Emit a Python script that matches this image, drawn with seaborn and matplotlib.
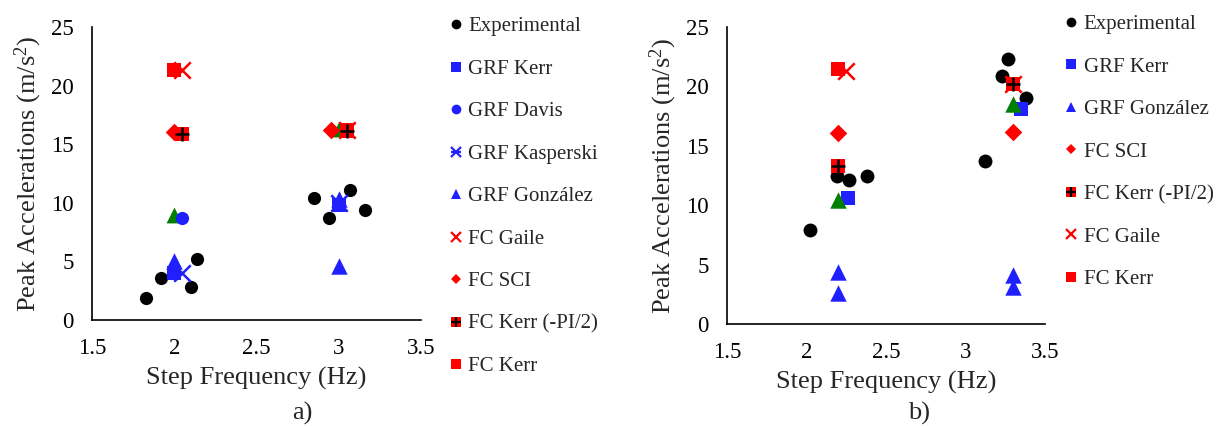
import matplotlib
matplotlib.use('Agg')
import matplotlib.pyplot as plt
import seaborn as sns
from matplotlib.lines import Line2D
from matplotlib.legend_handler import HandlerTuple

sns.set_style("white")
plt.rcParams['font.family'] = ['Liberation Serif', 'DejaVu Serif']
plt.rcParams['mathtext.default'] = 'regular'

BLUE = '#2020FF'
RED = '#FF0000'
GREEN = '#008000'

# ---- panel a) data ----
a_exp_x = [1.83, 1.92, 2.10, 2.14, 2.85, 2.94, 3.07, 3.16]
a_exp_y = [1.9, 3.6, 2.8, 5.2, 10.4, 8.7, 11.1, 9.4]
a_grf_kerr_x = [2.0, 3.0]
a_grf_kerr_y = [4.0, 9.8]
a_green_x = [2.0, 3.0]
a_green_y = [9.0, 16.3]
a_grf_davis_x = [2.05]
a_grf_davis_y = [8.7]
a_grf_kasp_x = [2.05, 3.0]
a_grf_kasp_y = [4.0, 10.0]
a_grf_gonz_x = [2.0, 3.0, 3.0]
a_grf_gonz_y = [5.0, 10.3, 4.6]
a_fc_gaile_x = [2.05, 3.05]
a_fc_gaile_y = [21.3, 16.2]
a_fc_sci_x = [2.0, 2.95]
a_fc_sci_y = [16.0, 16.2]
a_fc_kerr_pi_x = [2.05, 3.05]
a_fc_kerr_pi_y = [15.9, 16.1]
a_fc_kerr_x = [2.0, 3.05]
a_fc_kerr_y = [21.3, 16.2]

# ---- panel b) data ----
b_exp_x = [2.02, 2.19, 2.27, 2.38, 3.12, 3.23, 3.27, 3.38]
b_exp_y = [7.9, 12.5, 12.1, 12.5, 13.7, 20.9, 22.3, 19.0]
b_grf_kerr_x = [2.26, 3.35]
b_grf_kerr_y = [10.6, 18.1]
b_green_x = [2.2, 3.3]
b_green_y = [10.4, 18.5]
b_grf_gonz_x = [2.2, 2.2, 3.3, 3.3]
b_grf_gonz_y = [4.4, 2.6, 4.1, 3.1]
b_fc_sci_x = [2.2, 3.3]
b_fc_sci_y = [16.1, 16.2]
b_fc_kerr_pi_x = [2.2, 3.3]
b_fc_kerr_pi_y = [13.3, 20.2]
b_fc_gaile_x = [2.25, 3.3]
b_fc_gaile_y = [21.3, 20.2]
b_fc_kerr_x = [2.2, 3.3]
b_fc_kerr_y = [21.5, 20.2]

x_ticks = [1.5, 2, 2.5, 3, 3.5]
x_tick_labels = ['1.5', '2', '2.5', '3', '3.5']
y_ticks = [0, 5, 10, 15, 20, 25]

fig = plt.figure(figsize=(12.22, 4.26), dpi=100)
ax_a = fig.add_axes([0.0753, 0.2488, 0.2692, 0.6878])
ax_b = fig.add_axes([0.5949, 0.2394, 0.2602, 0.6972])


def pts(ax, x, y, marker, color, s, lw=0):
    sns.scatterplot(x=x, y=y, ax=ax, marker=marker, color=color, s=s,
                    linewidth=lw, edgecolor=color, legend=False, zorder=3)


def kerr_pi(ax, x, y):
    pts(ax, x, y, 's', RED, 110)
    sns.scatterplot(x=x, y=y, ax=ax, marker='+', color='black', s=110,
                    linewidth=1.8, legend=False, zorder=4)


# panel a
pts(ax_a, a_exp_x, a_exp_y, 'o', 'black', 90)
pts(ax_a, a_grf_kerr_x, a_grf_kerr_y, 's', BLUE, 110)
pts(ax_a, a_green_x, a_green_y, '^', GREEN, 130)
pts(ax_a, a_grf_davis_x, a_grf_davis_y, 'o', BLUE, 90)
pts(ax_a, a_grf_kasp_x, a_grf_kasp_y, 'x', BLUE, 140, lw=1.8)
pts(ax_a, a_grf_gonz_x, a_grf_gonz_y, '^', BLUE, 140)
pts(ax_a, a_fc_gaile_x, a_fc_gaile_y, 'x', RED, 140, lw=1.8)
pts(ax_a, a_fc_sci_x, a_fc_sci_y, 'D', RED, 80)
kerr_pi(ax_a, a_fc_kerr_pi_x, a_fc_kerr_pi_y)
pts(ax_a, a_fc_kerr_x, a_fc_kerr_y, 's', RED, 110)

# panel b
pts(ax_b, b_exp_x, b_exp_y, 'o', 'black', 100)
pts(ax_b, b_grf_kerr_x, b_grf_kerr_y, 's', BLUE, 110)
pts(ax_b, b_green_x, b_green_y, '^', GREEN, 140)
pts(ax_b, b_grf_gonz_x, b_grf_gonz_y, '^', BLUE, 140)
pts(ax_b, b_fc_sci_x, b_fc_sci_y, 'D', RED, 80)
kerr_pi(ax_b, b_fc_kerr_pi_x, b_fc_kerr_pi_y)
pts(ax_b, b_fc_gaile_x, b_fc_gaile_y, 'x', RED, 140, lw=1.8)
pts(ax_b, b_fc_kerr_x, b_fc_kerr_y, 's', RED, 110)

for ax in (ax_a, ax_b):
    ax.set_xlim(1.5, 3.5)
    ax.set_ylim(0, 25)
    ax.set_xticks(x_ticks)
    ax.set_xticklabels(x_tick_labels)
    ax.set_yticks(y_ticks)
    ax.tick_params(axis='both', direction='out', length=7, width=1.2,
                   labelsize=16.5, colors='black', pad=6)
    for sp in ('top', 'right'):
        ax.spines[sp].set_visible(False)
    for sp in ('left', 'bottom'):
        ax.spines[sp].set_color('black')
        ax.spines[sp].set_linewidth(1.2)
    ax.set_xlabel('Step Frequency (Hz)', fontsize=19, labelpad=6)
    ax.set_ylabel('Peak Accelerations (m/s$^{2}$)', fontsize=19, labelpad=5)
    ax.grid(False)

fig.text(0.247, 0.015, 'a)', fontsize=19, ha='center')
fig.text(0.752, 0.015, 'b)', fontsize=19, ha='center')


def h(marker, color, ms, mew=0):
    return Line2D([], [], linestyle='none', marker=marker, color=color,
                  markersize=ms, markeredgewidth=mew, markeredgecolor=color)


h_exp = h('o', 'black', 7)
h_grf_kerr = h('s', BLUE, 7)
h_grf_davis = h('o', BLUE, 7)
h_grf_kasp = (h('x', BLUE, 7, 1.6), h('_', BLUE, 7, 1.6))
h_grf_gonz = h('^', BLUE, 7)
h_fc_gaile = h('x', RED, 7, 1.6)
h_fc_sci = h('D', RED, 5.5)
h_fc_kerr_pi = (h('s', RED, 7), h('+', 'black', 7, 1.6))
h_fc_kerr = h('s', RED, 7)

leg_kw = dict(loc='upper left', frameon=False, fontsize=15, handlelength=0.7,
              handletextpad=0.25, labelspacing=1.1, borderpad=0,
              handler_map={tuple: HandlerTuple(ndivide=1, pad=0)})

fig.legend([h_exp, h_grf_kerr, h_grf_davis, h_grf_kasp, h_grf_gonz,
            h_fc_gaile, h_fc_sci, h_fc_kerr_pi, h_fc_kerr],
           ['Experimental', 'GRF Kerr', 'GRF Davis', 'GRF Kasperski',
            'GRF González', 'FC Gaile', 'FC SCI', 'FC Kerr (-PI/2)', 'FC Kerr'],
           bbox_to_anchor=(0.3586, 0.985), **leg_kw)

fig.legend([h_exp, h_grf_kerr, h_grf_gonz, h_fc_sci, h_fc_kerr_pi,
            h_fc_gaile, h_fc_kerr],
           ['Experimental', 'GRF Kerr', 'GRF González', 'FC SCI',
            'FC Kerr (-PI/2)', 'FC Gaile', 'FC Kerr'],
           bbox_to_anchor=(0.862, 0.99), **leg_kw)

fig.savefig('out.png', dpi=100)
